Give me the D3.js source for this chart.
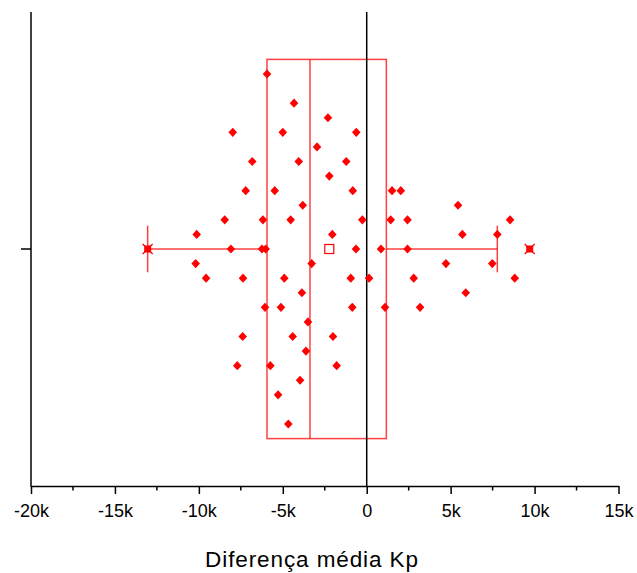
<!DOCTYPE html>
<html>
<head>
<meta charset="utf-8">
<script src="https://cdn.jsdelivr.net/npm/d3@7"></script>
<style>
  html, body { margin: 0; padding: 0; background: #fff; }
  svg { display: block; }
</style>
</head>
<body>
<svg id="chart" width="637" height="573"></svg>
<script>
// Individual differences (Kp) and the jitter row each point is drawn on
const diffValues = [
  -5940,
  -4330,
  -2310,
  -7980, -5000, -620,
  -2960,
  -6820, -4050, -1220,
  -2230,
  -7210, -5480, -830, 1510, 2030,
  -3810, 5440,
  -8460, -6180, -4530, -260, 1430, 2430, 8540,
  -10130, -2050, 5700, 7780,
  -8090, -6240, -6020, -640, 850, 2430,
  -10190, -3280, 4720, 7480,
  -9570, -7370, -4910, -950, 140, 2800, 8820,
  -3860, 5900,
  -6060, -5110, -860, 1090, 3180,
  -3500,
  -7390, -4410, -2010,
  -3620,
  -7710, -5740, -1790,
  -3970,
  -5280,
  -4670
];
const jitterRows = [
  -12,
  -10,
  -9,
  -8, -8, -8,
  -7,
  -6, -6, -6,
  -5,
  -4, -4, -4, -4, -4,
  -3, -3,
  -2, -2, -2, -2, -2, -2, -2,
  -1, -1, -1, -1,
  0, 0, 0, 0, 0, 0,
  1, 1, 1, 1,
  2, 2, 2, 2, 2, 2, 2,
  3, 3,
  4, 4, 4, 4, 4,
  5,
  6, 6, 6,
  7,
  8, 8, 8,
  9,
  10,
  12
];

// Box summary
const boxQuartiles = [-5940, -3380, 1170];   // Q1, median, Q3
const boxWhiskers = [-13050, 7780];          // lower, upper
const boxMean = [-2230];
const boxExtremes = [-13050, 9710];          // min, max

// Axis
const xTicks = [-20000, -15000, -10000, -5000, 0, 5000, 10000, 15000];
const xMinorTicks = [-17500, -12500, -7500, -2500, 2500, 7500, 12500];
const xTickLabels = ["-20k", "-15k", "-10k", "-5k", "0", "5k", "10k", "15k"];
const xTitle = "Diferença média Kp";

const svg = d3.select("#chart");
const plotLeft = 31, plotRight = 618.5, plotTop = 12, plotBottom = 486;
const red = "#ff0000";
const font = "'Liberation Sans', Arial, sans-serif";

const x = d3.scaleLinear().domain([-20000, 15000]).range([plotLeft, plotRight]);
const y = d3.scaleLinear().domain([-16.25, 16.25]).range([plotTop, plotBottom]);

const boxHalf = 13;   // box half-height in row units
const capHalf = 1.6;  // whisker cap half-height in row units

const g = svg.append("g");

// box
g.append("rect")
  .attr("x", x(boxQuartiles[0]))
  .attr("y", y(-boxHalf))
  .attr("width", x(boxQuartiles[2]) - x(boxQuartiles[0]))
  .attr("height", y(boxHalf) - y(-boxHalf))
  .attr("fill", "none")
  .attr("stroke", red)
  .attr("stroke-opacity", 0.75)
  .attr("stroke-width", 1.5);

// median
g.append("line")
  .attr("x1", x(boxQuartiles[1])).attr("x2", x(boxQuartiles[1]))
  .attr("y1", y(-boxHalf)).attr("y2", y(boxHalf))
  .attr("stroke", red).attr("stroke-opacity", 0.75).attr("stroke-width", 1.5);

// whiskers
const whiskerSegs = [[boxWhiskers[0], boxQuartiles[0]], [boxQuartiles[2], boxWhiskers[1]]];
g.selectAll(".whisker").data(whiskerSegs).join("line")
  .attr("x1", d => x(d[0])).attr("x2", d => x(d[1]))
  .attr("y1", y(0)).attr("y2", y(0))
  .attr("stroke", red).attr("stroke-opacity", 0.75).attr("stroke-width", 1.5);
g.selectAll(".cap").data(boxWhiskers).join("line")
  .attr("x1", d => x(d)).attr("x2", d => x(d))
  .attr("y1", y(-capHalf)).attr("y2", y(capHalf))
  .attr("stroke", red).attr("stroke-opacity", 0.75).attr("stroke-width", 1.5);

// zero reference line
g.append("line")
  .attr("x1", x(0)).attr("x2", x(0))
  .attr("y1", plotTop).attr("y2", plotBottom)
  .attr("stroke", "#000").attr("stroke-width", 1.5);

// data points
const diamond = "M0,-4.6L4.3,0L0,4.6L-4.3,0Z";
g.selectAll(".pt").data(diffValues).join("path")
  .attr("d", diamond)
  .attr("transform", (d, i) => `translate(${x(d)},${y(jitterRows[i])})`)
  .attr("fill", red);

// mean
g.selectAll(".mean").data(boxMean).join("rect")
  .attr("x", d => x(d) - 4.5).attr("y", y(0) - 4.5)
  .attr("width", 9).attr("height", 9)
  .attr("fill", "#fff").attr("stroke", red).attr("stroke-width", 1.2);

// min / max markers
const ext = g.selectAll(".ext").data(boxExtremes).join("g")
  .attr("transform", d => `translate(${x(d)},${y(0)})`);
ext.append("rect").attr("x", -3.5).attr("y", -3.5).attr("width", 7).attr("height", 7).attr("fill", red);
ext.append("path").attr("d", "M-5,-5L5,5M-5,5L5,-5")
  .attr("stroke", red).attr("stroke-width", 1.2);

// left axis
const ax = svg.append("g").attr("stroke", "#000").attr("stroke-width", 1.5);
ax.append("line").attr("x1", plotLeft).attr("x2", plotLeft).attr("y1", plotTop).attr("y2", plotBottom + 0.75);
ax.append("line").attr("x1", plotLeft - 10).attr("x2", plotLeft).attr("y1", y(0)).attr("y2", y(0));

// bottom axis
const xAxis = d3.axisBottom(x)
  .tickValues(xTicks)
  .tickFormat((d, i) => xTickLabels[i])
  .tickSizeInner(8)
  .tickSizeOuter(0)
  .tickPadding(10);
const xg = svg.append("g").attr("transform", `translate(0,${plotBottom})`).call(xAxis);
xg.select(".domain").attr("stroke", "#000").attr("stroke-width", 1.5);
xg.selectAll(".tick line").attr("stroke", "#000").attr("stroke-width", 1.5);
xg.selectAll(".tick text")
  .attr("font-family", font).attr("font-size", 18).attr("fill", "#000");

xg.selectAll(".minor").data(xMinorTicks).join("line")
  .attr("x1", d => x(d)).attr("x2", d => x(d))
  .attr("y1", 0).attr("y2", 4.5)
  .attr("stroke", "#000").attr("stroke-width", 1.5);

svg.append("text")
  .attr("x", 312)
  .attr("y", 567)
  .attr("text-anchor", "middle")
  .attr("font-family", font)
  .attr("font-size", 22.5)
  .attr("letter-spacing", 0.9)
  .attr("fill", "#000")
  .text(xTitle);
</script>
</body>
</html>
